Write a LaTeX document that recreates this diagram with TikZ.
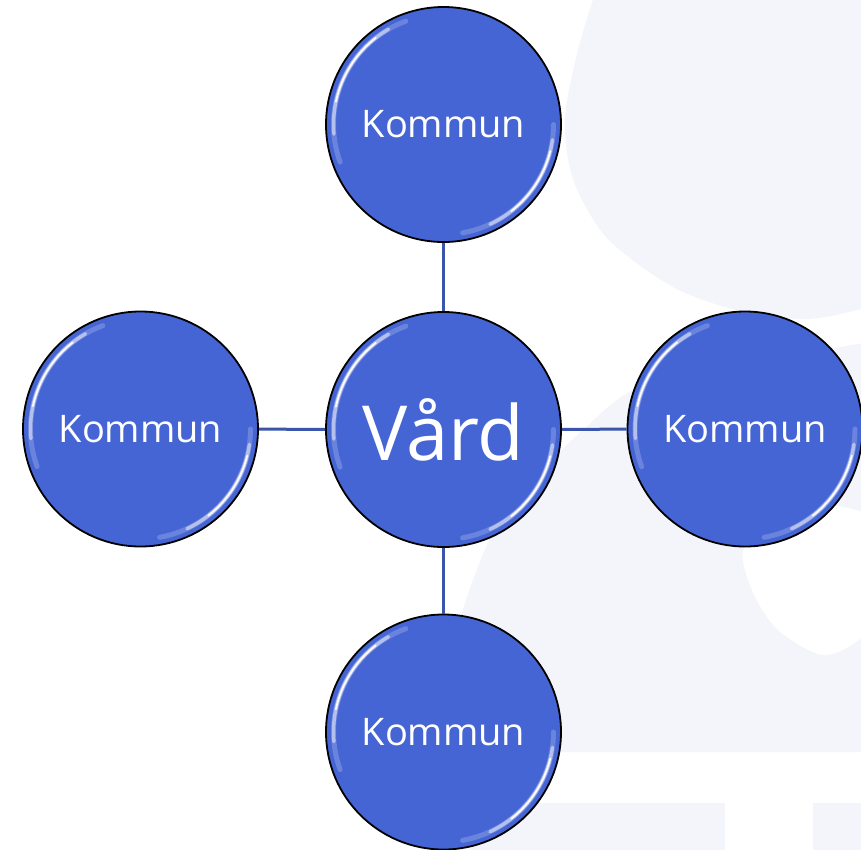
\documentclass[tikz,border=0pt]{standalone}
\usepackage{fontspec}
\setmainfont{Open Sans}
\definecolor{bggray}{HTML}{F4F5FA}
\definecolor{bubblue}{HTML}{4565D4}
\definecolor{connblue}{HTML}{3A55AA}
\tikzset{
  bub/.style={circle, draw=black, line width=1.8pt, fill=bubblue, minimum size=235pt, inner sep=0pt, text=white, font=\fontsize{38}{40}\selectfont},
  conn/.style={draw=connblue, line width=3pt},
  glossa/.style={white, opacity=.2, line width=5pt, line cap=round},
  glossb/.style={white, opacity=.5, line width=3.5pt, line cap=round},
  glossc/.style={white, opacity=.95, line width=1.8pt, line cap=round}
}
\begin{document}
\begin{tikzpicture}[x=1pt,y=-1pt]
\useasboundingbox (0,0) rectangle (861,849);
\fill[white] (0,0) rectangle (861,849);
% background shapes
\fill[bggray] plot[smooth] coordinates {(600,-10)(593,0)(577,54)(565,119)(573,179)(607,238)(673,287)(740,311)(807,319)(861,309)(880,300)} -- (880,-10) -- cycle;
\fill[bggray] plot[smooth] coordinates {(880,340)(760,362)(640,387)(583,430)(535,478)(493,533)(462,613)(448,690)(445,752)} -- (880,752) -- cycle;
\fill[white] plot[smooth cycle] coordinates {(745,546)(752,590)(778,630)(823,655)(861,638)(885,600)(875,520)(800,505)};
\fill[bggray] (470,803) rectangle (725,860);
\fill[bggray] (813,803) rectangle (870,860);
% nodes
\node[bub] (t) at (443.5,124.5) {Kommun};
\node[bub, font=\fontsize{76}{80}\selectfont] (c) at (443.5,429.5) {Vård};
\node[bub] (l) at (140.5,429) {Kommun};
\node[bub] (r) at (745,429) {Kommun};
\node[bub] (b) at (443.5,732) {Kommun};
% connectors
\draw[conn] (t) -- (c);
\draw[conn] (c) -- (b);
\draw[conn] (l) -- (c);
\draw[conn] (c) -- (r);
% gloss
\foreach \n in {t,c,l,r,b}{
  \draw[glossa] (\n.center) ++(-110:110) arc[start angle=-110, end angle=-200, radius=110];
  \draw[glossb] (\n.center) ++(-120:110) arc[start angle=-120, end angle=-185, radius=110];
  \draw[glossc] (\n.center) ++(-128:110) arc[start angle=-128, end angle=-168, radius=110];
  \draw[glossa] (\n.center) ++(0:110) arc[start angle=0, end angle=80, radius=110];
  \draw[glossb] (\n.center) ++(8:110) arc[start angle=8, end angle=65, radius=110];
  \draw[glossc] (\n.center) ++(14:110) arc[start angle=14, end angle=52, radius=110];
}
\end{tikzpicture}
\end{document}
